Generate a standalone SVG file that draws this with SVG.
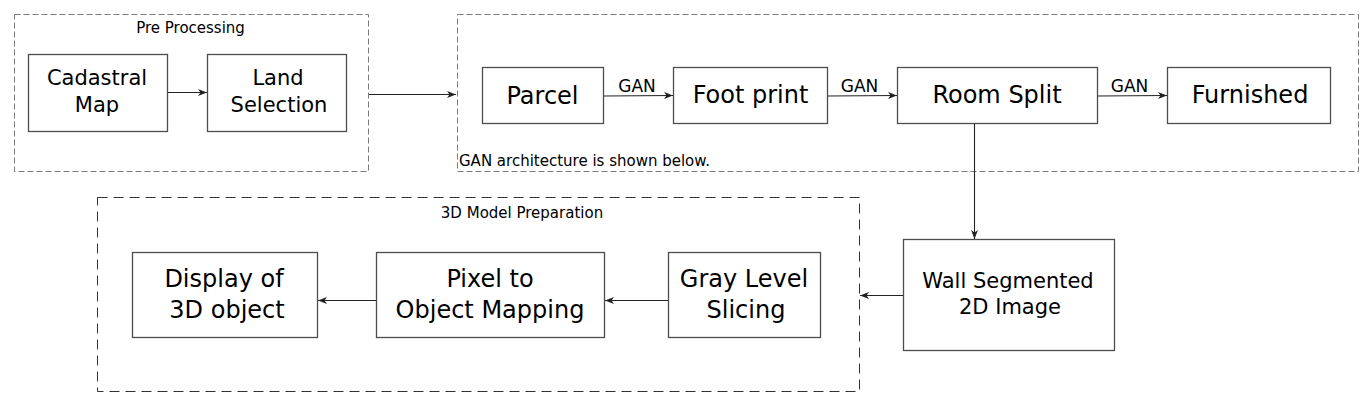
<svg xmlns="http://www.w3.org/2000/svg" width="1366" height="416" viewBox="0 0 1366 416">
<defs>
<style>
text{font-family:"DejaVu Sans","Liberation Sans",sans-serif;fill:#000;text-anchor:middle}
.box{fill:#fff;stroke:#4d4d4d;stroke-width:1.3}
.grp{fill:none;stroke:#7a7a7a;stroke-width:1;stroke-dasharray:6,3}
.grp2{fill:none;stroke:#333;stroke-width:1;stroke-dasharray:10,6}
.con{fill:none;stroke:#222;stroke-width:1.1;marker-end:url(#ah)}
.lbl{font-size:15px}
.big{font-size:24px}
.mid{font-size:21px}
.gan{font-size:17px}
</style>
<marker id="ah" viewBox="-9 -4 10 8" refX="0" refY="0" markerWidth="10" markerHeight="8" markerUnits="userSpaceOnUse" orient="auto">
<path d="M0,0 L-9,-3.5 L-6.5,0 L-9,3.5 Z" fill="#222"/>
</marker>
</defs>
<rect width="1366" height="416" fill="#fff"/>

<g id="pre-processing">
<rect class="grp" x="14.5" y="14.5" width="354" height="157"/>
<text class="lbl" x="190.5" y="33">Pre Processing</text>
</g>
<g id="gan-group">
<rect class="grp" x="457.5" y="14.5" width="901" height="157"/>
<text class="lbl" x="459" y="166" style="text-anchor:start">GAN architecture is shown below.</text>
</g>
<g id="model-prep">
<rect class="grp2" x="97.5" y="197.5" width="762" height="194"/>
<text class="lbl" x="522" y="218">3D Model Preparation</text>
</g>

<g id="cadastral">
<rect class="box" x="28.5" y="54.5" width="139" height="77"/>
<text class="mid" x="97" y="85">Cadastral</text>
<text class="mid" x="97" y="112">Map</text>
</g>
<g id="land">
<rect class="box" x="207.5" y="54.5" width="139" height="77"/>
<text class="mid" x="278" y="85">Land</text>
<text class="mid" x="279" y="112">Selection</text>
</g>
<g id="parcel">
<rect class="box" x="482.5" y="67.5" width="121" height="56"/>
<text class="big" x="542.5" y="104">Parcel</text>
</g>
<g id="footprint">
<rect class="box" x="673.5" y="67.5" width="154" height="56"/>
<text class="big" x="750.5" y="103">Foot print</text>
</g>
<g id="roomsplit">
<rect class="box" x="897.5" y="67.5" width="200" height="56"/>
<text class="big" x="997" y="103">Room Split</text>
</g>
<g id="furnished">
<rect class="box" x="1167.5" y="67.5" width="163" height="56"/>
<text class="big" x="1250" y="103">Furnished</text>
</g>
<g id="wall">
<rect class="box" x="903.5" y="239.5" width="211" height="111"/>
<text class="mid" x="1008" y="288">Wall Segmented</text>
<text class="mid" x="1010" y="314">2D Image</text>
</g>
<g id="gray">
<rect class="box" x="668.5" y="252.5" width="152" height="85"/>
<text class="big" x="744" y="287">Gray Level</text>
<text class="big" x="746" y="318">Slicing</text>
</g>
<g id="pixel">
<rect class="box" x="376.5" y="252.5" width="228" height="85"/>
<text class="big" x="490" y="287">Pixel to</text>
<text class="big" x="490" y="318">Object Mapping</text>
</g>
<g id="display">
<rect class="box" x="132.5" y="252.5" width="185" height="85"/>
<text class="big" x="224" y="287">Display of</text>
<text class="big" x="227" y="318">3D object</text>
</g>

<g id="connectors">
<path class="con" d="M168,92.5 L207,92.5"/>
<path class="con" d="M369,94.5 L456,94.5"/>
<path class="con" d="M604,96 L673,95.5"/>
<path class="con" d="M828,96 L897,95.5"/>
<path class="con" d="M1098,96 L1167,95.5"/>
<path class="con" d="M974.5,124 L974.5,239"/>
<path class="con" d="M903,295.5 L860,295.5"/>
<path class="con" d="M668,300.5 L605,300.5"/>
<path class="con" d="M376,300.5 L318,300.5"/>
<text class="gan" x="637" y="92">GAN</text>
<text class="gan" x="859.5" y="92">GAN</text>
<text class="gan" x="1129.5" y="92">GAN</text>
</g>
</svg>
